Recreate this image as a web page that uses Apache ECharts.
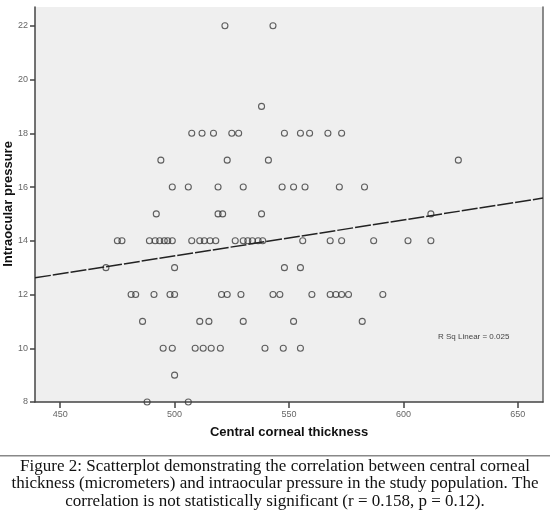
<!DOCTYPE html>
<html>
<head>
<meta charset="utf-8">
<script src="https://cdn.jsdelivr.net/npm/echarts@6/dist/echarts.min.js"></script>
<style>
html,body{margin:0;padding:0;background:#fff;}
#main{width:550px;height:521px;}
</style>
</head>
<body>
<div id="main"></div>
<script>
// Central corneal thickness (x) and intraocular pressure (y), grouped by IOP row
const rows = [
  { iop: 22, cct: [522, 543] },
  { iop: 19, cct: [538] },
  { iop: 18, cct: [507.5, 512, 517, 525, 528, 548, 555, 559, 567, 573] },
  { iop: 17, cct: [494, 523, 541, 624] },
  { iop: 16, cct: [499, 506, 519, 530, 547, 552, 557, 572, 583] },
  { iop: 15, cct: [492, 519, 521, 538, 612] },
  { iop: 14, cct: [475, 477, 489, 491.5, 493.5, 495.5, 497, 499, 507.5, 511, 513, 515.5, 518, 526.5, 530, 532, 534, 536.5, 538.5, 556, 568, 573, 587, 602, 612] },
  { iop: 13, cct: [470, 500, 548, 555] },
  { iop: 12, cct: [481, 483, 491, 498, 500, 520.5, 523, 529, 543, 546, 560, 568, 570.5, 573, 576, 591] },
  { iop: 11, cct: [486, 511, 515, 530, 552, 582] },
  { iop: 10, cct: [495, 499, 509, 512.5, 516, 520, 539.5, 547.5, 555] },
  { iop: 9,  cct: [500] },
  { iop: 8,  cct: [488, 506] }
];
const xTicks = [450, 500, 550, 600, 650];
const yTicks = [8, 10, 12, 14, 16, 18, 20, 22];
const xRange = [439, 661];
const yRange = [8, 22.7];
const fitIntercept = 6.746;
const fitSlope = 0.01338;
const rSqText = 'R Sq Linear = 0.025';
const xTitle = 'Central corneal thickness';
const yTitle = 'Intraocular pressure';
const captionLines = [
  'Figure 2: Scatterplot demonstrating the correlation between central corneal',
  'thickness (micrometers) and intraocular pressure in the study population. The',
  'correlation is not statistically significant (r = 0.158, p = 0.12).'
];

const points = [];
rows.forEach(r => r.cct.forEach(x => points.push([x, r.iop])));
const fitLine = xRange.map(x => [x, fitIntercept + fitSlope * x]);

const chart = echarts.init(document.getElementById('main'), null, { renderer: 'canvas' });
const axisColor = '#444';
chart.setOption({
  animation: false,
  backgroundColor: '#fff',
  grid: { left: 35, right: 7, top: 7, bottom: 119, containLabel: false, outerBoundsMode: 'none',
          show: true, backgroundColor: '#efefef', borderWidth: 0 },
  xAxis: {
    type: 'value', min: xRange[0], max: xRange[1],
    name: xTitle, nameLocation: 'middle', nameGap: 24,
    nameTextStyle: { fontFamily: 'Liberation Sans', fontWeight: 'bold', fontSize: 13, color: '#111' },
    axisLine: { show: true, onZero: false, lineStyle: { color: axisColor, width: 1.5 } },
    axisTick: { show: true, length: 6, customValues: xTicks, lineStyle: { color: axisColor, width: 1.5 } },
    axisLabel: { customValues: xTicks, margin: 8, fontSize: 9, color: '#666', fontFamily: 'Liberation Sans' },
    splitLine: { show: false }
  },
  yAxis: [{
    type: 'value', min: yRange[0], max: yRange[1],
    axisLine: { show: true, onZero: false, lineStyle: { color: axisColor, width: 1.5 } },
    axisTick: { show: true, length: 5, customValues: yTicks, lineStyle: { color: axisColor, width: 1.5 } },
    axisLabel: { customValues: yTicks, margin: 7, fontSize: 9, color: '#666', fontFamily: 'Liberation Sans' },
    splitLine: { show: false }
  }, {
    type: 'value', min: yRange[0], max: yRange[1], position: 'right',
    axisLine: { show: true, lineStyle: { color: '#666', width: 1.5 } },
    axisTick: { show: false }, axisLabel: { show: false }, splitLine: { show: false }
  }],
  series: [{
    type: 'scatter',
    data: points,
    symbol: 'circle',
    symbolSize: 6,
    itemStyle: { color: 'rgba(0,0,0,0)', borderColor: '#3a3a3a', borderWidth: 1.1 },
    silent: true
  }, {
    type: 'line',
    data: fitLine,
    symbol: 'none',
    lineStyle: { color: '#222', width: 1.5, type: [16, 2] },
    silent: true
  }],
  graphic: [
    { type: 'text', x: 8, y: 204, rotation: Math.PI / 2,
      style: { text: yTitle, fontSize: 13, fontWeight: 'bold', fill: '#111', fontFamily: 'Liberation Sans', textAlign: 'center', textVerticalAlign: 'middle' } },
    { type: 'text', left: 438, top: 333, style: { text: rSqText, fontSize: 8, fill: '#444', fontFamily: 'Liberation Sans' } },
    { type: 'rect', shape: { x: 0, y: 455, width: 550, height: 1.5 }, style: { fill: '#888' } },
    ...captionLines.map((t, i) => ({
      type: 'text', x: 275, y: 458 + i * 17.5,
      style: { text: t, fontSize: 17, fill: '#111', fontFamily: 'Liberation Serif', textAlign: 'center', textVerticalAlign: 'top' }
    }))
  ]
});
</script>
</body>
</html>
